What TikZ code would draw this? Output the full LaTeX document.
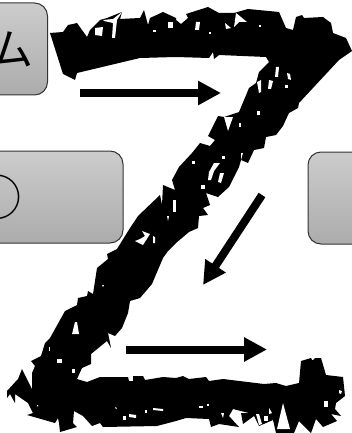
\documentclass[tikz,border=0pt]{standalone}
\usepackage{fontspec}
\newfontfamily\cjkfont{Noto Sans CJK JP}
\usetikzlibrary{
  arrows.meta
}
\definecolor{boxtop}{HTML}{CCCCCC}
\definecolor{boxbot}{HTML}{ACACAC}

\begin{document}
\begin{tikzpicture}[
    x=1pt, y=-1pt,
    font=\cjkfont\fontsize{44}{48}\selectfont,
    % Box styles
    box/.style={
        rectangle, draw=black!80, line width=1pt, rounded corners=13pt,
        top color=boxtop, bottom color=boxbot, align=center,
        minimum height=92pt, inner sep=0pt
    },
    % Arrow styles
    arr/.style={-{Triangle[length=23pt, width=23pt]}, line width=8pt, black},
    % Letter styles
    hole/.style={fill=white, draw=none}
]

\useasboundingbox (0,0) rectangle (352,433);
\clip (0,0) rectangle (352,433);

% ==========================================
% NODES & PLACEMENT
% ==========================================
\node[box, minimum width=66pt] (sys) at (14.5,49) {\raisebox{-3pt}{ム}\hspace{5pt}};
\node[box, minimum width=250pt] (one) at (-2,197) {\fontsize{48}{52}\selectfont\raisebox{-5pt}{①}};
\node[box, minimum width=120pt] (rgt) at (368,198) {};

% ==========================================
% THE LETTER
% ==========================================
\fill[black] (50,33) -- (63,32) -- (68,25) -- (73,24) -- (77,23) -- (87,37) -- (90,30) -- (100,20)
    -- (107,18) -- (122,12) -- (120,19) -- (140,18) -- (144,10) -- (148,25) -- (150,18) -- (163,12)
    -- (176,18) -- (176,20) -- (181,24) -- (188,18) -- (186,14) -- (208,7) -- (219,13) -- (234,13)
    -- (248,9) -- (279,12) -- (286,28) -- (293,30) -- (296,17) -- (302,15) -- (304,18) -- (323,17)
    -- (331,23) -- (333,33) -- (346,38) -- (352,51) -- (339,60) -- (299,103) -- (298,108) -- (289,113)
    -- (288,115) -- (283,126) -- (276,135) -- (266,137) -- (264,148) -- (254,150) -- (248,163)
    -- (241,160) -- (239,167) -- (229,187) -- (218,197) -- (206,193) -- (210,205) -- (203,208)
    -- (208,215) -- (199,216) -- (198,228) -- (189,232) -- (176,243) -- (168,251) -- (163,258) -- (152,284)
    -- (140,298) -- (130,301) -- (128,313) -- (122,328) -- (115,336) -- (108,333) -- (111,348)
    -- (107,341) -- (91,354) -- (91,364) -- (82,368) -- (77,379) -- (87,382) -- (100,377) -- (128,377)
    -- (129,381) -- (133,381) -- (133,376) -- (143,376) -- (145,380) -- (163,377) -- (176,378)
    -- (183,376) -- (189,379) -- (206,377) -- (209,381) -- (223,379) -- (264,384) -- (276,383)
    -- (286,386) -- (299,383) -- (301,361) -- (311,358) -- (312,360) -- (313,360) -- (315,358)
    -- (321,358) -- (326,375) -- (343,377) -- (345,396) -- (336,403) -- (335,409) -- (341,416)
    -- (331,414) -- (337,421) -- (323,427) -- (316,419) -- (311,433) -- (299,421) -- (294,433)
    -- (276,433) -- (273,420) -- (259,426) -- (254,416) -- (243,424) -- (241,413) -- (249,413)
    -- (233,409) -- (229,416) -- (239,427) -- (219,424) -- (211,427) -- (209,419) -- (186,418)
    -- (176,421) -- (157,426) -- (103,427) -- (100,423) -- (92,426) -- (83,416) -- (74,411) -- (73,423)
    -- (77,427) -- (60,432) -- (59,423) -- (58,418) -- (55,423) -- (27,415) -- (33,413) -- (28,403)
    -- (15,394) -- (15,403) -- (10,394) -- (7,398) -- (7,391) -- (18,379) -- (22,369) -- (27,379)
    -- (32,389) -- (32,373) -- (35,366) -- (31,361) -- (41,356) -- (45,343) -- (50,338) -- (65,311)
    -- (77,305) -- (78,298) -- (87,296) -- (88,291) -- (93,294) -- (97,268) -- (108,259) -- (107,254)
    -- (117,249) -- (130,228) -- (138,216) -- (160,195) -- (162,205) -- (163,185) -- (175,190) -- (172,180)
    -- (179,167) -- (192,153) -- (200,143) -- (210,146) -- (215,140) -- (208,136) -- (218,116) -- (224,117)
    -- (239,112) -- (249,88) -- (256,83) -- (259,72) -- (269,62) -- (266,57) -- (219,55) -- (214,59)
    -- (213,52) -- (209,58) -- (176,57) -- (140,58) -- (77,73) -- (75,80) -- (63,74) -- cycle;

% --- Top stroke ---
\fill[hole] (95,28) -- (103,27) -- (102,36) -- (95,35) -- cycle;
\fill[hole] (103,20) -- (113,19) -- (122,12) -- (117,20) -- (115,38) -- (112,38) -- (113,23) -- (104,21) -- cycle;
\fill[hole] (153,30) -- (156,30) -- (156,32) -- (153,32) -- cycle;
\fill[hole] (168,22) -- (173,22) -- (173,28) -- (168,28) -- cycle;
\fill[hole] (196,22) -- (200,22) -- (199,30) -- (195,30) -- cycle;
\fill[hole] (209,32) -- (211,32) -- (211,34) -- (209,34) -- cycle;
\fill[hole] (225,23) -- (231,28) -- (226,29) -- cycle;
\fill[hole] (236,13) -- (247,22) -- (239,22) -- (234,27) -- cycle;
\fill[hole] (259,25) -- (261,25) -- (261,27) -- (259,27) -- cycle;

% --- Diagonal stroke ---
\fill[hole] (276,67) -- (279,67) -- (278,77) -- (275,77) -- cycle;
\fill[hole] (287,73) -- (290,74) -- (291,80) -- (288,79) -- cycle;
\fill[hole] (269,80) -- (273,81) -- (271,89) -- (268,89) -- cycle;
\fill[hole] (257,82) -- (261,80) -- (261,92) -- (259,93) -- cycle;
\fill[hole] (285,85) -- (288,85) -- (288,88) -- (285,88) -- cycle;
\fill[hole] (257,111) -- (260,111) -- (260,115) -- (257,115) -- cycle;
\fill[hole] (239,123) -- (241,123) -- (241,127) -- (239,127) -- cycle;
\fill[hole] (224,117) -- (233,117) -- (228,131) -- cycle;
\fill[hole] (241,153) -- (243,153) -- (241,160) -- cycle;
\fill[hole] (222,156) -- (225,156) -- (225,159) -- (222,159) -- cycle;
\fill[hole] (192,161) -- (195,161) -- (195,164) -- (192,164) -- cycle;
\fill[hole] (214,163) -- (220,163) -- (214,171) -- (211,180) -- (208,180) -- (209,172) -- cycle;
\fill[hole] (220,173) -- (224,173) -- (221,183) -- (218,182) -- cycle;
\fill[hole] (201,185) -- (205,185) -- (205,189) -- (201,189) -- cycle;
\fill[hole] (173,200) -- (176,200) -- (176,212) -- (173,212) -- cycle;
\fill[hole] (142,231) -- (150,234) -- (143,245) -- (135,241) -- (140,239) -- (145,236) -- cycle;
\fill[hole] (153,236) -- (155,237) -- (155,243) -- (153,243) -- cycle;
\fill[hole] (167,216) -- (169,216) -- (168,221) -- cycle;
\fill[hole] (102,285) -- (104,285) -- (103,287) -- cycle;
\fill[hole] (75,322) -- (77,322) -- (79,334) -- (72,334) -- cycle;
\fill[hole] (49,347) -- (50,347) -- (50,351) -- (49,351) -- cycle;
\fill[hole] (57,359) -- (62,359) -- (62,363) -- (57,363) -- cycle;
\fill[hole] (72,369) -- (75,369) -- (75,373) -- (72,373) -- cycle;

% --- Bottom stroke ---
\fill[hole] (37,405) -- (38,405) -- (38,407) -- cycle;
\fill[hole] (123,416) -- (126,416) -- (126,420) -- (123,420) -- cycle;
\fill[hole] (129,414) -- (136,415) -- (136,418) -- (129,417) -- cycle;
\fill[hole] (145,410) -- (147,410) -- (147,413) -- (145,413) -- cycle;
\fill[hole] (153,408) -- (163,409) -- (163,411) -- (153,410) -- cycle;
\fill[hole] (115,407) -- (117,408) -- (116,409) -- cycle;
\fill[hole] (199,406) -- (203,406) -- (203,408) -- (199,408) -- cycle;
\fill[hole] (207,404) -- (209,404) -- (209,406) -- (207,406) -- cycle;
\fill[hole] (221,413) -- (224,413) -- (223,418) -- cycle;
\fill[hole] (256,414) -- (259,414) -- (262,424) -- (259,425) -- cycle;
\fill[hole] (264,416) -- (268,416) -- (268,421) -- (264,421) -- cycle;
\fill[hole] (269,408) -- (272,413) -- (269,414) -- cycle;
\fill[hole] (283,403) -- (290,429) -- (277,429) -- cycle;
\fill[hole] (324,401) -- (328,401) -- (328,407) -- (324,407) -- cycle;
\fill[hole] (339,390) -- (342,391) -- (341,394) -- (339,393) -- cycle;

% ==========================================
% ROUTING & ARROWS
% ==========================================
\coordinate (topstart) at (80,93);
\coordinate (topend) at (221,93);
\coordinate (diagstart) at (262,195);
\coordinate (diagend) at (203,285);
\coordinate (botstart) at (126,349.5);
\coordinate (botend) at (267,349.5);

\draw[arr] (topstart) -- (topend);
\draw[arr] (diagstart) -- (diagend);
\draw[arr] (botstart) -- (botend);

\end{tikzpicture}
\end{document}
